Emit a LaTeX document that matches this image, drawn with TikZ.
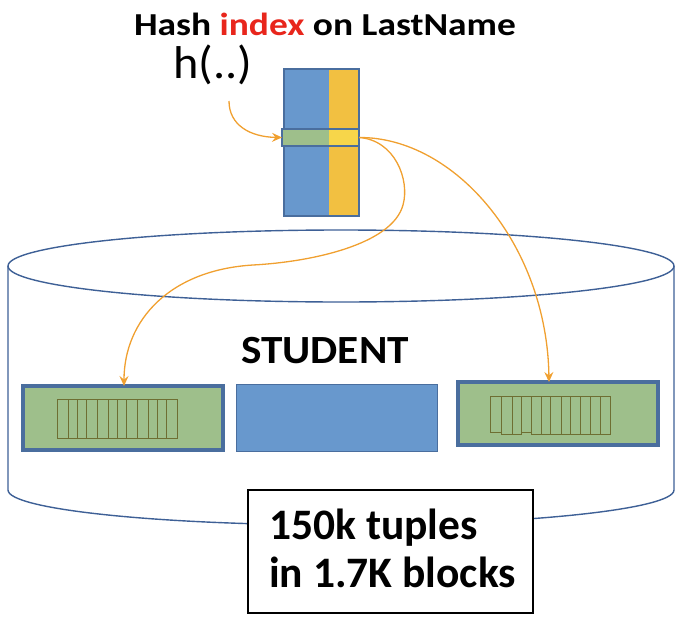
\documentclass[tikz,border=0pt]{standalone}
\usepackage{fontspec}
\setmainfont{Carlito}
\usetikzlibrary{arrows.meta,shapes.geometric}
\definecolor{idxblue}{HTML}{6898CD}
\definecolor{idxyellow}{HTML}{F2C041}
\definecolor{rowgreen}{HTML}{9EBF8B}
\definecolor{rowyellow}{HTML}{F7D64A}
\definecolor{borderblue}{HTML}{4A6E9E}
\definecolor{cylblue}{HTML}{3E6096}
\definecolor{arrorange}{HTML}{F0A030}
\definecolor{tuplecol}{HTML}{6E6E32}
\definecolor{titlered}{HTML}{E8261C}
\tikzset{
  box/.style={anchor=north west, inner sep=0pt, outer sep=0pt},
  blockbox/.style={box, draw=borderblue, line width=3.5pt, fill=rowgreen},
  ptr/.style={draw=arrorange, line width=1.3pt, -{Stealth[length=10pt,width=9pt,inset=3.5pt]}},
  tup/.style={draw=tuplecol, line width=0.6pt},
  cyl/.style={draw=cylblue, line width=1.4pt}
}
\begin{document}
\begin{tikzpicture}[x=1pt,y=-1pt]
\useasboundingbox (0,0) rectangle (682,626);
% cylinder
\node[ellipse, cyl, minimum width=666pt, minimum height=72pt, inner sep=0pt] (cyltop) at (341,266) {};
\coordinate (cl) at (8,266);
\coordinate (cr) at (674,266);
\draw[cyl] (cl) -- (8,490) .. controls (8,509.3) and (157.1,525) .. (341,525)
  .. controls (524.9,525) and (674,509.3) .. (674,490) -- (cr);
% index column
\node[box, fill=idxblue, minimum width=45pt, minimum height=147pt] (colA) at (284,69) {};
\node[box, fill=idxyellow, minimum width=30pt, minimum height=147pt] (colB) at (329,69) {};
\draw[draw=borderblue, line width=2pt] (colA.north west) rectangle (colB.south east);
\node[box, fill=rowgreen, minimum width=47pt, minimum height=17pt] (rowA) at (282,129) {};
\node[box, fill=rowyellow, minimum width=30pt, minimum height=17pt] (rowB) at (329,129) {};
\node[box, draw=borderblue, line width=2pt, minimum width=77pt, minimum height=17pt] (hrow) at (282,129) {};
% texts
\node[anchor=base, inner sep=0pt, font=\bfseries\fontsize{32}{32}\selectfont] (title) at (325,36) {\scalebox{1.17}[1]{Hash \textcolor{titlered}{index} on LastName}};
\node[anchor=base west, inner sep=0pt, font=\fontsize{46}{46}\selectfont] (hfun) at (173,78) {\scalebox{1.05}[1]{h(..)}};
\node[anchor=base, inner sep=0pt, font=\bfseries\fontsize{40}{40}\selectfont] (student) at (325,363) {\scalebox{1.08}[1]{STUDENT}};
% blocks
\node[blockbox, minimum width=200pt, minimum height=64pt] (lb) at (23,386) {};
\node[box, draw=borderblue, line width=1pt, fill=idxblue, minimum width=201pt, minimum height=67pt] (mb) at (236,384) {};
\node[blockbox, minimum width=200pt, minimum height=63pt] (rb) at (458,382) {};
% tuples left
\draw[tup] (57.3,399) rectangle (177.3,438);
\foreach \x in {68.3,77.7,86.7,97.7,108.3,117.3,126.7,137.7,148.3,157.7,166.7}
  \draw[tup] (\x,399) -- (\x,438);
% tuples right
\draw[tup] (490.7,396) rectangle (501.7,432);
\draw[tup] (501.7,396) rectangle (512.7,434);
\draw[tup] (512.7,396) rectangle (521.7,434);
\draw[tup] (521.7,396) rectangle (531,432);
\draw[tup] (531,396) rectangle (610,434);
\foreach \x in {541.7,550.7,561.7,570.7,580.7,590.7,600.7}
  \draw[tup] (\x,396) -- (\x,434);
% arrows
\coordinate (hstart) at (229,101);
\draw[ptr] (hstart) .. controls (229,125) and (250,137) .. (hrow.west);
\draw[ptr] (hrow.east) .. controls (455,137) and (547,245) .. (rb.north -| 549,0);
\draw[ptr] (hrow.east) .. controls (395,140) and (410,180) .. (403,205)
  .. controls (392,245) and (310,262) .. (253,265)
  .. controls (170,270) and (124,320) .. (lb.north -| 124,0);
% bottom box
\node[box, draw=black, fill=white, line width=1.5pt, minimum width=285pt, minimum height=123pt] (info) at (248,490) {};
\node[anchor=base west, inner sep=0pt, font=\bfseries\fontsize{43.5}{44}\selectfont] (l1) at (269,539) {150k tuples};
\node[anchor=base west, inner sep=0pt, font=\bfseries\fontsize{43.5}{44}\selectfont] (l2) at (269,587) {in 1.7K blocks};
\end{tikzpicture}
\end{document}
